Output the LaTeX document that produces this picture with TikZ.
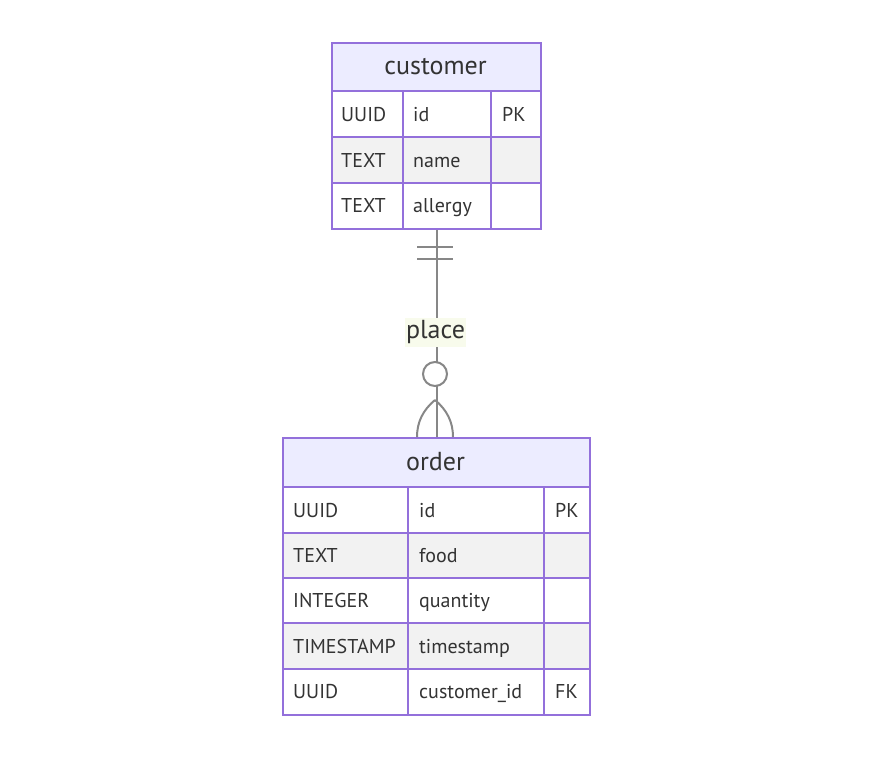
\documentclass[tikz,border=0pt]{standalone}
\usepackage{fontspec}
\setmainfont{PT Sans}
\usepackage{xcolor}
\usepackage{tikz}
\definecolor{erborder}{HTML}{9370DB}
\definecolor{erhead}{HTML}{ECECFF}
\definecolor{errow}{HTML}{F2F2F2}
\definecolor{ertext}{HTML}{333333}
\definecolor{erline}{HTML}{878787}
\definecolor{erlabel}{HTML}{F8FBEC}

\begin{document}
\begin{tikzpicture}[x=1pt,y=-1pt,
  tablebox/.style={draw=erborder,line width=2pt,inner sep=0pt,anchor=north west},
  gridline/.style={draw=erborder,line width=2pt},
  headtext/.style={text=ertext,font=\fontsize{26}{28}\selectfont},
  celltext/.style={text=ertext,anchor=base west,inner sep=0pt,font=\fontsize{20}{22}\selectfont},
  relline/.style={draw=erline,line width=2pt}]
\useasboundingbox (0,0) rectangle (871,756);

\fill[erhead] (331,42) rectangle (540,91);
\fill[white] (331,91) rectangle (540,137);
\fill[errow] (331,137) rectangle (540,183);
\fill[white] (331,183) rectangle (540,228);
\draw[gridline] (331,91) -- (540,91) (331,137) -- (540,137) (331,183) -- (540,183);
\draw[gridline] (403,91) -- (403,228) (491,91) -- (491,228);
\node[tablebox,minimum width=209pt,minimum height=186pt] (customer) at (331,42) {};
\node[headtext] (customer-title) at (435.5,66.5) {customer};
\node[celltext] (customer-id-t) at (341,121) {UUID};
\node[celltext] (customer-id-n) at (413,121) {id};
\node[celltext] (customer-id-k) at (502,121) {PK};
\node[celltext] (customer-name-t) at (341,167) {TEXT};
\node[celltext] (customer-name-n) at (413,167) {name};
\node[celltext] (customer-allergy-t) at (341,212.5) {TEXT};
\node[celltext] (customer-allergy-n) at (413,212.5) {allergy};

\fill[erhead] (282,437) rectangle (589,487);
\fill[white] (282,487) rectangle (589,533);
\fill[errow] (282,533) rectangle (589,578);
\fill[white] (282,578) rectangle (589,623);
\fill[errow] (282,623) rectangle (589,669);
\fill[white] (282,669) rectangle (589,714);
\draw[gridline] (282,487) -- (589,487) (282,533) -- (589,533) (282,578) -- (589,578)
  (282,623) -- (589,623) (282,669) -- (589,669);
\draw[gridline] (408,487) -- (408,714) (544,487) -- (544,714);
\node[tablebox,minimum width=307pt,minimum height=277pt] (order) at (282,437) {};
\node[headtext] (order-title) at (435.5,462) {order};
\node[celltext] (order-id-t) at (293,517) {UUID};
\node[celltext] (order-id-n) at (419,517) {id};
\node[celltext] (order-id-k) at (555,517) {PK};
\node[celltext] (order-food-t) at (293,562.5) {TEXT};
\node[celltext] (order-food-n) at (419,562.5) {food};
\node[celltext] (order-quantity-t) at (293,607.5) {INTEGER};
\node[celltext] (order-quantity-n) at (419,607.5) {quantity};
\node[celltext] (order-timestamp-t) at (293,653) {TIMESTAMP};
\node[celltext] (order-timestamp-n) at (419,653) {timestamp};
\node[celltext] (order-customer-t) at (293,698.5) {UUID};
\node[celltext] (order-customer-n) at (419,698.5) {customer\_id};
\node[celltext] (order-customer-k) at (555,698.5) {FK};

\draw[relline] (customer.south) -- (order.north);
\draw[relline] (417,247) -- (453,247) (417,259) -- (453,259);
\draw[relline] (435,400) .. controls (423,410) and (417,422) .. (417,437);
\draw[relline] (435,400) .. controls (447,410) and (453,422) .. (453,437);
\draw[relline,fill=white] (435,374) circle (12);
\node[fill=erlabel,text=ertext,inner sep=0pt,minimum width=61pt,minimum height=29pt,
  font=\fontsize{26}{28}\selectfont] (place) at (435.5,332) {place};
\end{tikzpicture}
\end{document}
